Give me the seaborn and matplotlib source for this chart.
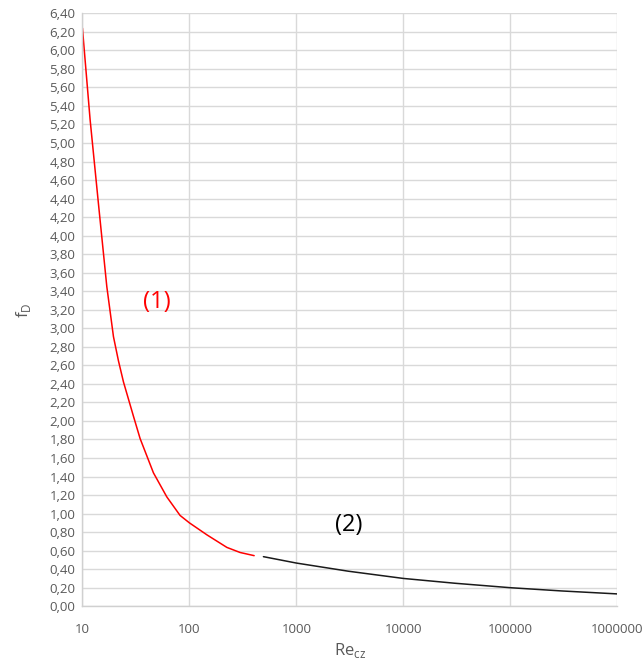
import numpy as np
import pandas as pd
import seaborn as sns
import matplotlib.pyplot as plt
from matplotlib.ticker import FixedLocator, FuncFormatter, NullLocator

# values
re_1 = [10, 11.8, 14.1, 16.9, 19.5, 21.7, 24.2, 27.5, 30.0, 34.6, 46.1, 61.5,
        81.8, 100, 146, 224, 298, 403]
fd_1 = [6.24, 5.25, 4.35, 3.45, 2.91, 2.65, 2.42, 2.20, 2.05, 1.81, 1.44, 1.18,
        0.98, 0.90, 0.77, 0.635, 0.58, 0.546]
re_2 = [492, 1000, 3060, 10000, 30400, 100000, 302000, 1000000]
fd_2 = [0.535, 0.466, 0.378, 0.30, 0.248, 0.20, 0.165, 0.133]
x_ticks = [10, 100, 1000, 10000, 100000, 1000000]
y_ticks = np.round(np.arange(0, 6.41, 0.2), 2)


def main():
    sns.set_style('white')
    plt.rcParams['font.family'] = ['Open Sans', 'DejaVu Sans']

    df1 = pd.DataFrame({'Re': re_1, 'fD': fd_1})
    df2 = pd.DataFrame({'Re': re_2, 'fD': fd_2})

    fig = plt.figure(figsize=(6.44, 6.64), dpi=100)
    ax = fig.add_axes([0.128, 0.087, 0.8305, 0.893])

    sns.lineplot(data=df1, x='Re', y='fD', color='#ff0000', lw=1.1, ax=ax, sort=False)
    sns.lineplot(data=df2, x='Re', y='fD', color='#1a1a1a', lw=1.1, ax=ax, sort=False)

    ax.set_xscale('log')
    ax.set_xlim(10, 1000000)
    ax.set_ylim(0, 6.4)
    ax.xaxis.set_major_locator(FixedLocator(x_ticks))
    ax.xaxis.set_minor_locator(NullLocator())
    ax.xaxis.set_major_formatter(FuncFormatter(lambda v, p: '%d' % round(v)))
    ax.yaxis.set_major_locator(FixedLocator(y_ticks))
    ax.yaxis.set_major_formatter(FuncFormatter(lambda v, p: ('%.2f' % v).replace('.', ',')))

    ax.grid(True, color='#d9d9d9', lw=1.0)
    ax.set_axisbelow(True)
    for s in ['top', 'right']:
        ax.spines[s].set_visible(False)
    for s in ['left', 'bottom']:
        ax.spines[s].set_color('#d0d0d0')
        ax.spines[s].set_linewidth(1.0)
    ax.tick_params(length=0, colors='#595959', labelsize=9.5)
    ax.tick_params(axis='x', pad=12)
    ax.tick_params(axis='y', pad=5)

    ax.set_xlabel('Re$_{\\mathregular{cz}}$', color='#595959', fontsize=12, labelpad=4)
    ax.set_ylabel('f$_{\\mathregular{D}}$', color='#595959', fontsize=12, labelpad=12)

    ax.text(50, 3.28, '(1)', color='#ff0000', fontsize=17, ha='center', va='center')
    ax.text(3100, 0.88, '(2)', color='black', fontsize=17, ha='center', va='center')

    fig.savefig('out.png', dpi=100)


if __name__ == '__main__':
    main()
